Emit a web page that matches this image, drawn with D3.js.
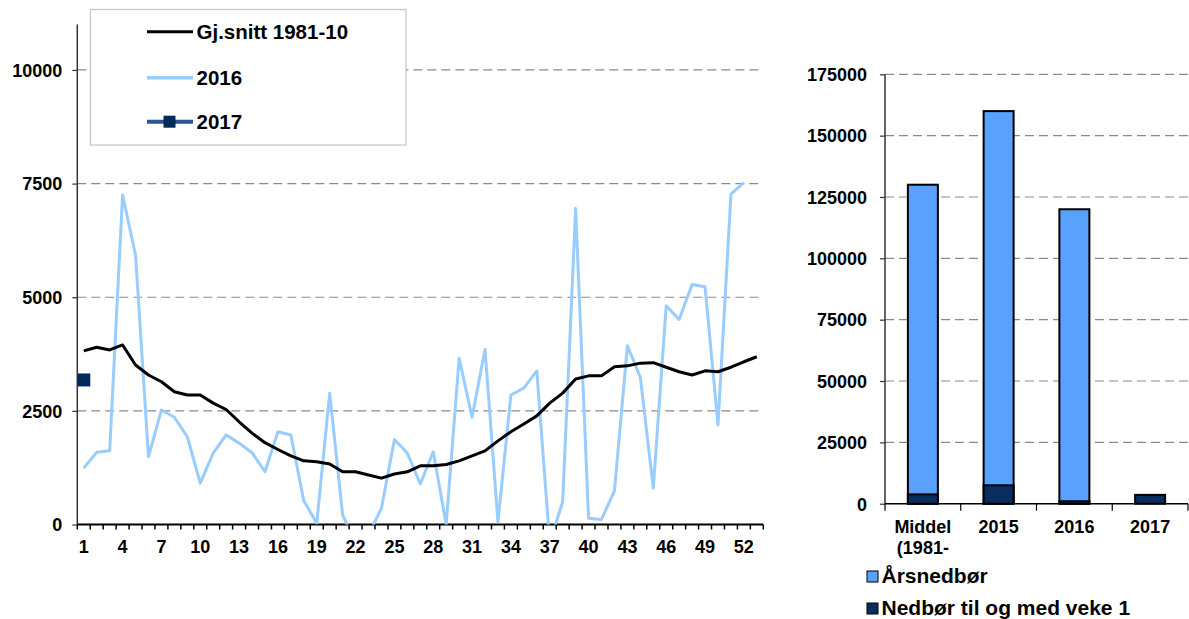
<!DOCTYPE html>
<html>
<head>
<meta charset="utf-8">
<script src="https://cdn.jsdelivr.net/npm/d3@7"></script>
<style>
  html, body { margin: 0; padding: 0; background: #fff; }
  svg { display: block; font-family: "Liberation Sans", Arial, sans-serif; font-weight: bold; }
</style>
</head>
<body>
<svg id="chart" width="1189" height="619"></svg>
<script>
// Weekly precipitation (week numbers 1–53)
const weeks = [1,2,3,4,5,6,7,8,9,10,11,12,13,14,15,16,17,18,19,20,21,22,23,24,25,26,27,
  28,29,30,31,32,33,34,35,36,37,38,39,40,41,42,43,44,45,46,47,48,49,50,51,52,53];
const weekTickLabels = [1,4,7,10,13,16,19,22,25,28,31,34,37,40,43,46,49,52];

// Average 1981-2010
const avg = [3820,3900,3840,3950,3510,3290,3140,2920,2850,2850,2670,2530,2260,2010,1800,1650,
  1510,1400,1380,1330,1160,1160,1090,1020,1110,1160,1290,1290,1320,1400,1510,1620,1840,2040,
  2210,2390,2670,2890,3200,3270,3270,3470,3490,3550,3560,3460,3360,3290,3380,3360,3460,3580,3690];
// 2016 (52 weeks)
const y2016 = [1240,1590,1620,7250,5930,1490,2520,2360,1930,910,1570,1970,1790,1580,1160,2040,
  1970,520,30,2890,210,-400,-230,360,1870,1570,890,1600,0,3660,2360,3850,60,2850,3000,3380,
  -400,500,6950,140,110,740,3930,3240,800,4810,4510,5280,5230,2190,7270,7520];
// 2017 (so far)
const y2017 = [3180];

const seriesNames = ["Gj.snitt 1981-10", "2016", "2017"];
const leftTicks = [0, 2500, 5000, 7500, 10000];

// Annual totals
const barCats = ["Middel", "2015", "2016", "2017"];
const barLabelLines = [["Middel", "(1981-"], ["2015"], ["2016"], ["2017"]];
const annualTotal = [130000, 160000, 120000, null];
const toWeek1 = [3800, 7500, 1000, 3600];
const barSeriesNames = ["Årsnedbør", "Nedbør til og med veke 1"];
const rightTicks = [0, 25000, 50000, 75000, 100000, 125000, 150000, 175000];

const C = {
  avg: "#000000",
  y2016: "#99CCFF",
  y2017line: "#2A5590",
  y2017mark: "#002A5C",
  annual: "#59A1FF",
  week1: "#0A2C5E",
  grid: "#8a8a8a"
};
const FONT = "Liberation Sans, Arial, sans-serif";

const svg = d3.select("#chart");

// ---------- Left: weekly lines ----------
const L = { x0: 77.3, x1: 763.3, yTop: 24.5, yBot: 524.5 };
const xw = d3.scaleBand().domain(weeks).range([L.x0, L.x1]).padding(0);
const yl = d3.scaleLinear().domain([0, 11000]).range([L.yBot, L.yTop]);
const cx = w => xw(w) + xw.bandwidth() / 2;

const left = svg.append("g");

// gridlines
left.append("g").selectAll("line").data(leftTicks.filter(t => t > 0)).join("line")
  .attr("x1", L.x0).attr("x2", L.x1)
  .attr("y1", d => yl(d)).attr("y2", d => yl(d))
  .attr("stroke", C.grid).attr("stroke-width", 1.2).attr("stroke-dasharray", "9,5");

// y axis
const yAxisL = left.append("g").attr("transform", `translate(${L.x0},0)`)
  .call(d3.axisLeft(yl).tickValues(leftTicks).tickSize(5).tickPadding(10).tickFormat(d3.format("d")));
yAxisL.select(".domain").attr("d", `M0,${L.yTop}V${L.yBot}`).attr("stroke", "#333").attr("stroke-width", 1.5);
yAxisL.selectAll(".tick line").attr("stroke", "#333").attr("stroke-width", 1.2);
yAxisL.selectAll("text").attr("font-size", 18).attr("font-weight", "bold").attr("fill", "#000")
  .attr("font-family", FONT).attr("dy", "0.35em");

// x axis: ticks between weeks, labels every 3rd week
const xg = left.append("g");
xg.append("line").attr("x1", L.x0).attr("x2", L.x1).attr("y1", L.yBot).attr("y2", L.yBot)
  .attr("stroke", "#000").attr("stroke-width", 2);
const bounds = weeks.map(w => xw(w)).concat([L.x1]);
xg.selectAll("line.tk").data(bounds).join("line").attr("class", "tk")
  .attr("x1", d => d).attr("x2", d => d).attr("y1", L.yBot).attr("y2", L.yBot + 5)
  .attr("stroke", "#000").attr("stroke-width", 1.5);
xg.selectAll("text").data(weekTickLabels).join("text")
  .attr("x", d => cx(d)).attr("y", 553).attr("text-anchor", "middle")
  .attr("font-size", 18).text(d => d);

// clip lines to plot area
svg.append("defs").append("clipPath").attr("id", "plotclip")
  .append("rect").attr("x", L.x0).attr("y", L.yTop).attr("width", L.x1 - L.x0).attr("height", L.yBot - L.yTop);

const line = d3.line().x((d, i) => cx(weeks[i])).y(d => yl(d));
const lines = left.append("g").attr("clip-path", "url(#plotclip)");
lines.append("path").datum(y2016).attr("d", line).attr("fill", "none")
  .attr("stroke", C.y2016).attr("stroke-width", 3).attr("stroke-linejoin", "round");
lines.append("path").datum(avg).attr("d", line).attr("fill", "none")
  .attr("stroke", C.avg).attr("stroke-width", 3).attr("stroke-linejoin", "round");

// 2017 marker(s)
left.append("g").selectAll("rect").data(y2017).join("rect")
  .attr("x", (d, i) => cx(weeks[i]) - 6.5).attr("y", d => yl(d) - 6.5)
  .attr("width", 13).attr("height", 13).attr("fill", C.y2017mark);

// legend
const lg = left.append("g");
lg.append("rect").attr("x", 90.5).attr("y", 9.5).attr("width", 315.5).attr("height", 135.5)
  .attr("fill", "#fff").attr("stroke", "#c4c4c4").attr("stroke-width", 1.2);
const legRows = [31.7, 77.7, 121.7];
const legStyles = [
  { stroke: C.avg, w: 3 },
  { stroke: C.y2016, w: 3.5 },
  { stroke: C.y2017line, w: 4 }
];
seriesNames.forEach((name, i) => {
  const y = legRows[i];
  lg.append("line").attr("x1", 147).attr("x2", 193).attr("y1", y).attr("y2", y)
    .attr("stroke", legStyles[i].stroke).attr("stroke-width", legStyles[i].w);
  if (i === 2) {
    lg.append("rect").attr("x", 163.5).attr("y", y - 6).attr("width", 12).attr("height", 12)
      .attr("fill", C.y2017mark);
  }
  lg.append("text").attr("x", 196.5).attr("y", y + 7).attr("font-size", 20.5).text(name);
});

// ---------- Right: annual bars ----------
const R = { x0: 885, x1: 1188, yTop: 74.3, yBot: 503.7 };
const xb = d3.scaleBand().domain(barCats).range([R.x0, R.x1]).padding(0);
const yr = d3.scaleLinear().domain([0, 175000]).range([R.yBot, R.yTop]);
const barW = 30;
const right = svg.append("g");

right.append("g").selectAll("line").data(rightTicks.filter(t => t > 0)).join("line")
  .attr("x1", R.x0).attr("x2", 1189)
  .attr("y1", d => yr(d)).attr("y2", d => yr(d))
  .attr("stroke", C.grid).attr("stroke-width", 1.2).attr("stroke-dasharray", "9,5");

const yAxisR = right.append("g").attr("transform", `translate(${R.x0},0)`)
  .call(d3.axisLeft(yr).tickValues(rightTicks).tickSize(5).tickPadding(13).tickFormat(d3.format("d")));
yAxisR.select(".domain").attr("d", `M0,${R.yTop}V${R.yBot}`).attr("stroke", "#333").attr("stroke-width", 1.5);
yAxisR.selectAll(".tick line").attr("stroke", "#333").attr("stroke-width", 1.2);
yAxisR.selectAll("text").attr("font-size", 18).attr("font-weight", "bold").attr("fill", "#000")
  .attr("font-family", FONT).attr("dy", "0.35em");

// bars: annual total, with the share up to week 1 drawn over it
const bcx = c => xb(c) + xb.bandwidth() / 2;
right.append("g").selectAll("rect").data(barCats.map((c, i) => ({ c, v: annualTotal[i] })).filter(d => d.v != null))
  .join("rect")
  .attr("x", d => bcx(d.c) - barW / 2).attr("width", barW)
  .attr("y", d => yr(d.v)).attr("height", d => yr(0) - yr(d.v))
  .attr("fill", C.annual).attr("stroke", "#000").attr("stroke-width", 2);
right.append("g").selectAll("rect").data(barCats.map((c, i) => ({ c, v: toWeek1[i] })))
  .join("rect")
  .attr("x", d => bcx(d.c) - barW / 2).attr("width", barW)
  .attr("y", d => yr(d.v)).attr("height", d => yr(0) - yr(d.v))
  .attr("fill", C.week1).attr("stroke", "#000").attr("stroke-width", 2);

// x axis
const xr = right.append("g");
xr.append("line").attr("x1", R.x0).attr("x2", R.x1).attr("y1", R.yBot).attr("y2", R.yBot)
  .attr("stroke", "#000").attr("stroke-width", 1.5);
xr.selectAll("line.tk").data(barCats.map(c => xb(c)).concat([R.x1])).join("line").attr("class", "tk")
  .attr("x1", d => d).attr("x2", d => d).attr("y1", R.yBot).attr("y2", R.yBot + 7)
  .attr("stroke", "#000").attr("stroke-width", 1.2);
barCats.forEach((c, i) => {
  barLabelLines[i].forEach((ln, j) => {
    xr.append("text").attr("x", bcx(c)).attr("y", 533 + j * 21).attr("text-anchor", "middle")
      .attr("font-size", 18).text(ln);
  });
});

// bar legend
const bl = right.append("g");
[C.annual, C.week1].forEach((col, i) => {
  const y = 571 + i * 32;
  bl.append("rect").attr("x", 867).attr("y", y).attr("width", 11).attr("height", 11)
    .attr("fill", col).attr("stroke", "#000").attr("stroke-width", 1);
  bl.append("text").attr("x", 881.5).attr("y", y + 11.5).attr("font-size", 21).text(barSeriesNames[i]);
});
</script>
</body>
</html>
